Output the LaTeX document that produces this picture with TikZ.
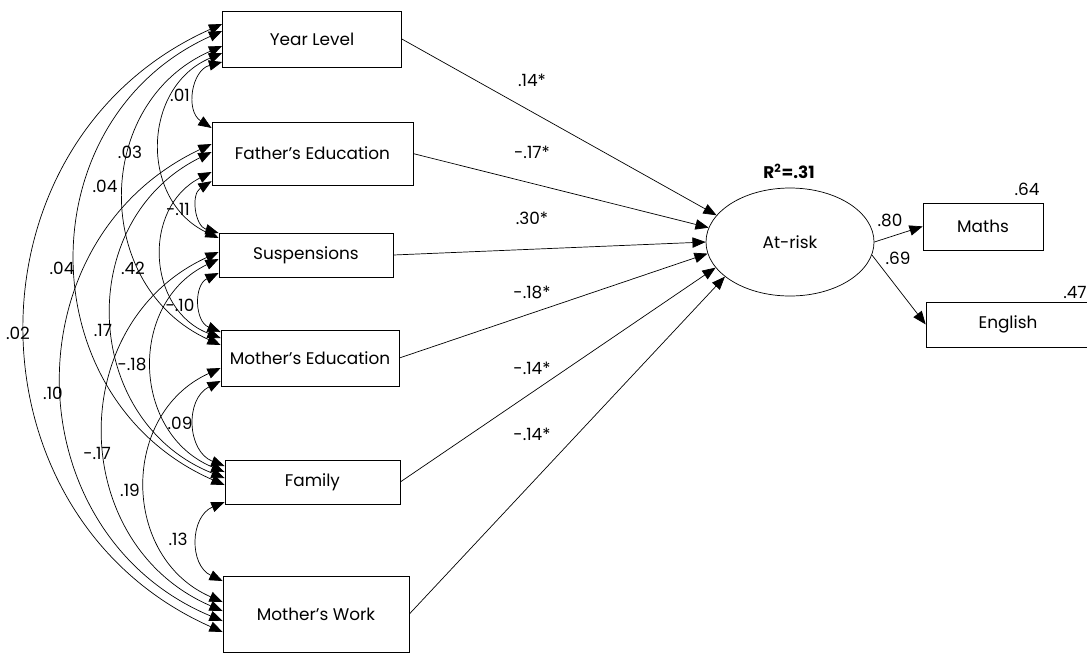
\documentclass[tikz,border=0pt]{standalone}
\usepackage{fontspec}
\setmainfont{Poppins}
\usetikzlibrary{arrows.meta, shapes.geometric}

\begin{document}
\begin{tikzpicture}[
  line width=0.5pt,
  obs/.style={draw, rectangle, font=\fontsize{12}{14}\selectfont},
  coef/.style={font=\fontsize{12}{14}\selectfont, inner sep=1pt},
  regarrow/.style={-{Triangle[length=3.3mm,width=2.6mm]}},
  covarc/.style={{Triangle[length=3.3mm,width=2.6mm]}-{Triangle[length=3.3mm,width=2.6mm]}, bend right=66, looseness=1.21}
]
\useasboundingbox (0,0) rectangle (27.175,-16.325);

% observed predictors
\node[obs, minimum width=4.475cm, minimum height=1.4cm] (yl) at (7.8,-0.975) {Year Level};
\node[obs, minimum width=5.025cm, minimum height=1.575cm] (fe) at (7.81,-3.84) {Father’s Education};
\node[obs, minimum width=4.35cm, minimum height=1.1cm] (su) at (7.65,-6.375) {Suspensions};
\node[obs, minimum width=4.45cm, minimum height=1.4cm] (me) at (7.75,-8.95) {Mother’s Education};
\node[obs, minimum width=4.375cm, minimum height=1.1cm] (fa) at (7.81,-12.05) {Family};
\node[obs, minimum width=4.65cm, minimum height=1.9cm] (mw) at (7.9,-15.35) {Mother’s Work};

% latent and outcomes
\node[draw, ellipse, minimum width=4.2cm, minimum height=2.7cm, font=\fontsize{12}{14}\selectfont] (risk) at (19.75,-6.05) {At-risk};
\node[coef, font=\fontsize{12}{14}\selectfont\bfseries] (rsq) at (19.725,-4.275) {R\textsuperscript{2}=.31};
\node[obs, minimum width=3.0cm, minimum height=1.175cm] (ma) at (24.575,-5.66) {Maths};
\node[obs, minimum width=4.1cm, minimum height=1.125cm] (en) at (25.2,-8.11) {English};
\node[coef] (rma) at (25.675,-4.725) {.64};
\node[coef] (ren) at (26.875,-7.3) {.47};

% paths to At-risk
\draw[regarrow] (yl.east) -- (risk.160);
\draw[regarrow] (fe.east) -- (risk.170);
\draw[regarrow] (su.east) -- (risk.180);
\draw[regarrow] (me.east) -- (risk.188);
\draw[regarrow] (fa.east) -- (risk.199);
\draw[regarrow] (mw.east) -- (risk.208);
\node[coef] (b1) at (13.3,-2.0) {.14*};
\node[coef] (b2) at (13.3,-3.8) {-.17*};
\node[coef] (b3) at (13.3,-5.45) {.30*};
\node[coef] (b4) at (13.3,-7.3) {-.18*};
\node[coef] (b5) at (13.3,-9.2) {-.14*};
\node[coef] (b6) at (13.3,-10.85) {-.14*};

% loadings
\draw[regarrow] (risk.east) -- (ma.west);
\draw[regarrow] (risk.-9) -- (en.west);
\node[coef] (l1) at (22.25,-5.5) {.80};
\node[coef] (l2) at (22.45,-6.45) {.69};

% covariances
\draw[covarc] ([yshift=-5.75mm]yl.west) to ([yshift=6.4mm]fe.west);
\draw[covarc] ([yshift=-3.5mm]yl.west) to ([yshift=4.25mm]su.west);
\draw[covarc] ([yshift=-1.75mm]yl.west) to ([yshift=3.25mm]me.west);
\draw[covarc] ([yshift=2mm]yl.west) to ([yshift=-0.75mm]fa.west);
\draw[covarc] ([yshift=3.75mm]yl.west) to ([yshift=-4.5mm]mw.west);
\draw[covarc] ([yshift=-6.9mm]fe.west) to ([yshift=5.5mm]su.west);
\draw[covarc] ([yshift=-4.6mm]fe.west) to ([yshift=5mm]me.west);
\draw[covarc] ([yshift=0.4mm]fe.west) to ([yshift=1mm]fa.west);
\draw[covarc] ([yshift=2.4mm]fe.west) to ([yshift=-1.75mm]mw.west);
\draw[covarc] ([yshift=-4.5mm]su.west) to ([yshift=6.5mm]me.west);
\draw[covarc] ([yshift=-1mm]su.west) to ([yshift=2.5mm]fa.west);
\draw[covarc] ([yshift=0.75mm]su.west) to ([yshift=0.75mm]mw.west);
\draw[covarc] ([yshift=-5.75mm]me.west) to ([yshift=4mm]fa.west);
\draw[covarc] ([yshift=-2.5mm]me.west) to ([yshift=3mm]mw.west);
\draw[covarc] ([yshift=-5mm]fa.west) to ([yshift=8.25mm]mw.west);

\node[coef] (c12) at (4.5,-2.375) {.01};
\node[coef] (c13) at (3.25,-3.8) {.03};
\node[coef] (c14) at (2.625,-4.65) {.04};
\node[coef] (c15) at (1.55,-6.7) {.04};
\node[coef] (c16) at (0.45,-8.325) {.02};
\node[coef] (c23) at (4.45,-5.225) {-.11};
\node[coef] (c24) at (3.325,-6.7) {.42};
\node[coef] (c25) at (2.575,-8.25) {.17};
\node[coef] (c26) at (1.325,-9.825) {.10};
\node[coef] (c34) at (4.5,-7.625) {-.10};
\node[coef] (c35) at (3.3,-9.1) {-.18};
\node[coef] (c36) at (2.425,-11.325) {-.17};
\node[coef] (c45) at (4.5,-10.575) {.09};
\node[coef] (c46) at (3.25,-12.25) {.19};
\node[coef] (c56) at (4.45,-13.475) {.13};
\end{tikzpicture}
\end{document}
